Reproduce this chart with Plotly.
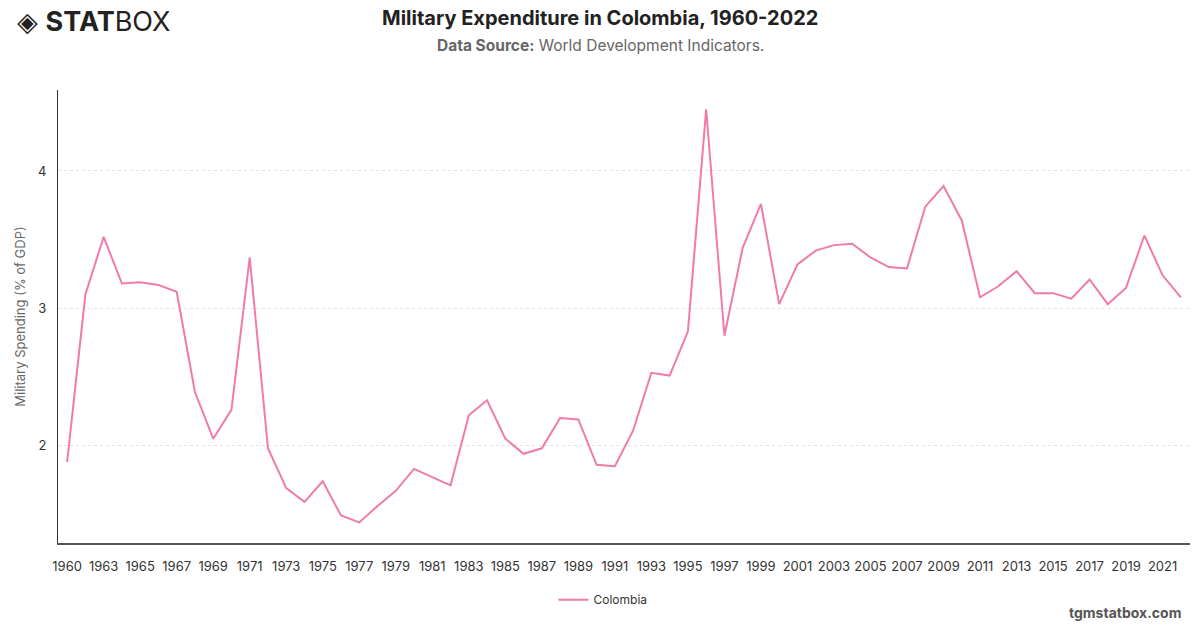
import plotly.graph_objects as go

years = [1960] + list(range(1962, 2023))
years = [str(y) for y in years]
values = [1.88, 3.10, 3.52, 3.18, 3.19, 3.17, 3.12, 2.39, 2.05, 2.26,
          3.37, 1.98, 1.69, 1.59, 1.74, 1.49, 1.44, 1.56, 1.67, 1.83,
          1.77, 1.71, 2.22, 2.33, 2.05, 1.94, 1.98, 2.20, 2.19, 1.86,
          1.85, 2.11, 2.53, 2.51, 2.83, 4.45, 2.80, 3.44, 3.76, 3.03,
          3.32, 3.42, 3.46, 3.47, 3.37, 3.30, 3.29, 3.74, 3.89, 3.64,
          3.08, 3.16, 3.27, 3.11, 3.11, 3.07, 3.21, 3.03, 3.15, 3.53,
          3.24, 3.08]
tick_labels = years[::2]

FONT = "Inter, Roboto, Arial, sans-serif"

fig = go.Figure()
fig.add_trace(go.Scatter(
    x=years, y=values, mode="lines", name="Colombia",
    line=dict(color="#F07BAA", width=2),
))

pw = 1200 - 58 - 10
ph = 628 - 90 - 85

fig.update_layout(
    width=1200, height=628,
    margin=dict(l=58, r=10, t=90, b=85),
    paper_bgcolor="white", plot_bgcolor="white",
    font=dict(family=FONT, color="#333333", size=13),
    showlegend=True,
    legend=dict(orientation="h", x=(603 - 58) / pw, xanchor="center", y=-0.125, yanchor="middle",
                font=dict(size=12, color="#333333")),
    xaxis=dict(
        type="category", range=[-0.5, len(years) - 0.5],
        tickmode="array", tickvals=tick_labels, ticktext=tick_labels,
        showline=True, linecolor="#555555", linewidth=2,
        showgrid=False, ticks="", tickfont=dict(size=13, color="#333333"),
        tickangle=0, ticklabelstandoff=10,
    ),
    yaxis=dict(
        range=[1.29, 4.59], tickvals=[2, 3, 4],
        showline=True, linecolor="#333333", linewidth=1,
        showgrid=True, gridcolor="#e3e3e3", griddash="dot", gridwidth=1,
        zeroline=False, ticks="", tickfont=dict(size=13, color="#333333"),
        ticklabelstandoff=8,
        title=dict(text="Military Spending (% of GDP)", font=dict(size=13, color="#666666"), standoff=9),
    ),
    annotations=[
        dict(text="<b>Military Expenditure in Colombia, 1960-2022</b>", x=600, y=18,
             xref="paper", yref="paper", showarrow=False, font=dict(size=20, color="#222222")),
        dict(text="<b>Data Source:</b> World Development Indicators.", x=600, y=46,
             xref="paper", yref="paper", showarrow=False, font=dict(size=15.5, color="#666666")),
        dict(text="<b>tgmstatbox.com</b>", x=1183, y=612, xref="paper", yref="paper",
             xanchor="right", showarrow=False, font=dict(size=14, color="#555555")),
        dict(text="◈ <b>STAT</b>BOX", x=15, y=21, xref="paper", yref="paper", xanchor="left",
             showarrow=False, font=dict(size=27, color="#222222")),
    ],
)

# convert pixel-based annotation positions to paper coords
for a in fig.layout.annotations:
    a.x = (a.x - 58) / pw
    a.y = (628 - 85 - a.y) / ph
    a.yanchor = "middle"

fig.write_html("out.html")
